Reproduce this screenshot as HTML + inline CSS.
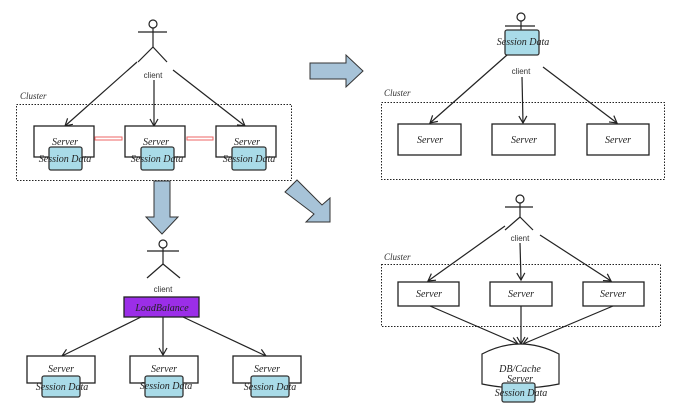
<!DOCTYPE html>
<html><head><meta charset="utf-8"><style>body{margin:0;background:#fff}svg{display:block}</style></head><body>
<svg width="674" height="411" viewBox="0 0 674 411" xmlns="http://www.w3.org/2000/svg">
<defs>
<marker id="a" markerWidth="10" markerHeight="10" refX="8" refY="5" orient="auto" markerUnits="userSpaceOnUse"><path d="M1,1 L8,5 L1,9" fill="none" stroke="#222" stroke-width="1.2"/></marker>
<style>
.s{font-family:"Liberation Serif",serif;font-style:italic;font-size:10px;fill:#222;text-anchor:middle}
.c{font-family:"Liberation Sans",sans-serif;font-size:8px;fill:#333;text-anchor:middle}
.l{font-family:"Liberation Serif",serif;font-style:italic;font-size:9px;fill:#333}
.b{fill:#fff;stroke:#222;stroke-width:1.3}
.sd{fill:#a9dbe8;stroke:#333;stroke-width:1.3}
.ln{stroke:#222;stroke-width:1.2;fill:none}
.dash{fill:none;stroke:#222;stroke-width:1;stroke-dasharray:1.5,1.5}
.arr{fill:#a7c3d8;stroke:#333;stroke-width:1}
</style>
</defs>
<!-- top-left -->
<g class="ln"><circle cx="153" cy="24" r="4"/><line x1="138" y1="32" x2="167" y2="32"/><line x1="153" y1="28" x2="153" y2="47"/><line x1="153" y1="47" x2="138" y2="62"/><line x1="153" y1="47" x2="167" y2="62"/></g>
<text class="c" x="153" y="78">client</text>
<line class="ln" x1="137" y1="62" x2="65" y2="126" marker-end="url(#a)"/>
<line class="ln" x1="154" y1="80" x2="154" y2="126" marker-end="url(#a)"/>
<line class="ln" x1="173" y1="70" x2="245" y2="126" marker-end="url(#a)"/>
<text class="l" x="20" y="99">Cluster</text>
<rect class="dash" x="16.5" y="104.5" width="275" height="76"/>
<rect class="b" x="34" y="126" width="60" height="31"/><rect class="b" x="125" y="126" width="60" height="31"/><rect class="b" x="216" y="126" width="60" height="31"/>
<text class="s" x="65" y="145">Server</text><text class="s" x="156" y="145">Server</text><text class="s" x="247" y="145">Server</text>
<rect class="sd" x="49" y="147" width="33" height="23" rx="2"/><rect class="sd" x="141" y="147" width="33" height="23" rx="2"/><rect class="sd" x="232" y="147" width="34" height="23" rx="2"/>
<text class="s" x="65" y="162">Session Data</text><text class="s" x="157" y="162">Session Data</text><text class="s" x="249" y="162">Session Data</text>
<rect x="95" y="137" width="27" height="3" fill="#fff" stroke="#e66" stroke-width="1"/>
<rect x="187" y="137" width="26" height="3" fill="#fff" stroke="#e66" stroke-width="1"/>
<!-- arrows -->
<polygon class="arr" points="154,181 170,181 170,217 178,217 162,234 146,217 154,217"/>
<polygon class="arr" points="310,63 346,63 346,55 363,71 346,87 346,79 310,79"/>
<polygon class="arr" points="285,192 297,180 322,205 330,198 330,222 306,222 314,214"/>
<!-- bottom-left -->
<g class="ln"><circle cx="163" cy="244" r="4"/><line x1="147" y1="251" x2="179" y2="251"/><line x1="163" y1="248" x2="163" y2="264"/><line x1="163" y1="264" x2="147" y2="278"/><line x1="163" y1="264" x2="180" y2="278"/></g>
<text class="c" x="163" y="292">client</text>
<rect x="124" y="297" width="75" height="20" fill="#9b2ee8" stroke="#222" stroke-width="1.3"/>
<text class="s" x="162" y="311">LoadBalance</text>
<line class="ln" x1="141" y1="317" x2="62" y2="356" marker-end="url(#a)"/>
<line class="ln" x1="163" y1="317" x2="163" y2="355" marker-end="url(#a)"/>
<line class="ln" x1="183" y1="317" x2="266" y2="356" marker-end="url(#a)"/>
<rect class="b" x="27" y="356" width="68" height="27"/><rect class="b" x="130" y="356" width="68" height="27"/><rect class="b" x="233" y="356" width="68" height="27"/>
<text class="s" x="61" y="372">Server</text><text class="s" x="164" y="372">Server</text><text class="s" x="267" y="372">Server</text>
<rect class="sd" x="42" y="376" width="38" height="21" rx="2"/><rect class="sd" x="145" y="376" width="38" height="21" rx="2"/><rect class="sd" x="251" y="376" width="38" height="21" rx="2"/>
<text class="s" x="62" y="390">Session Data</text><text class="s" x="166" y="389">Session Data</text><text class="s" x="270" y="390">Session Data</text>
<!-- top-right -->
<g class="ln"><circle cx="521" cy="17" r="4"/><line x1="505" y1="26" x2="535" y2="26"/><line x1="521" y1="21" x2="521" y2="30"/></g>
<rect class="sd" x="505" y="30" width="34" height="25" rx="2"/>
<text class="s" x="523" y="45">Session Data</text>
<text class="c" x="521" y="74">client</text>
<line class="ln" x1="507" y1="55" x2="430" y2="123" marker-end="url(#a)"/>
<line class="ln" x1="522" y1="77" x2="523" y2="123" marker-end="url(#a)"/>
<line class="ln" x1="543" y1="67" x2="617" y2="123" marker-end="url(#a)"/>
<text class="l" x="384" y="96">Cluster</text>
<rect class="dash" x="381.5" y="102.5" width="283" height="77"/>
<rect class="b" x="398" y="124" width="63" height="31"/><rect class="b" x="492" y="124" width="63" height="31"/><rect class="b" x="587" y="124" width="62" height="31"/>
<text class="s" x="430" y="143">Server</text><text class="s" x="524" y="143">Server</text><text class="s" x="618" y="143">Server</text>
<!-- bottom-right -->
<g class="ln"><circle cx="520" cy="199" r="4"/><line x1="505" y1="207" x2="533" y2="207"/><line x1="520" y1="203" x2="520" y2="217"/><line x1="520" y1="217" x2="505" y2="230"/><line x1="520" y1="217" x2="533" y2="230"/></g>
<text class="c" x="520" y="241">client</text>
<line class="ln" x1="505" y1="226" x2="428" y2="281" marker-end="url(#a)"/>
<line class="ln" x1="520" y1="243" x2="521" y2="280" marker-end="url(#a)"/>
<line class="ln" x1="540" y1="235" x2="611" y2="281" marker-end="url(#a)"/>
<text class="l" x="384" y="260">Cluster</text>
<rect class="dash" x="381.5" y="264.5" width="279" height="62"/>
<rect class="b" x="398" y="282" width="61" height="24"/><rect class="b" x="490" y="282" width="62" height="24"/><rect class="b" x="583" y="282" width="61" height="24"/>
<text class="s" x="429" y="297">Server</text><text class="s" x="521" y="297">Server</text><text class="s" x="613" y="297">Server</text>
<line class="ln" x1="430" y1="306" x2="518" y2="344" marker-end="url(#a)"/>
<line class="ln" x1="521" y1="306" x2="521" y2="344" marker-end="url(#a)"/>
<line class="ln" x1="613" y1="306" x2="523" y2="344" marker-end="url(#a)"/>
<path d="M482,354 Q520,334 559,354 L559,384 Q520,392 482,384 Z" fill="#fff" stroke="#222" stroke-width="1.2"/>
<text class="s" x="520" y="372">DB/Cache</text><text class="s" x="520" y="382">Server</text>
<rect class="sd" x="502" y="383" width="33" height="19" rx="2"/>
<text class="s" x="521" y="396">Session Data</text>
</svg>
</body></html>
